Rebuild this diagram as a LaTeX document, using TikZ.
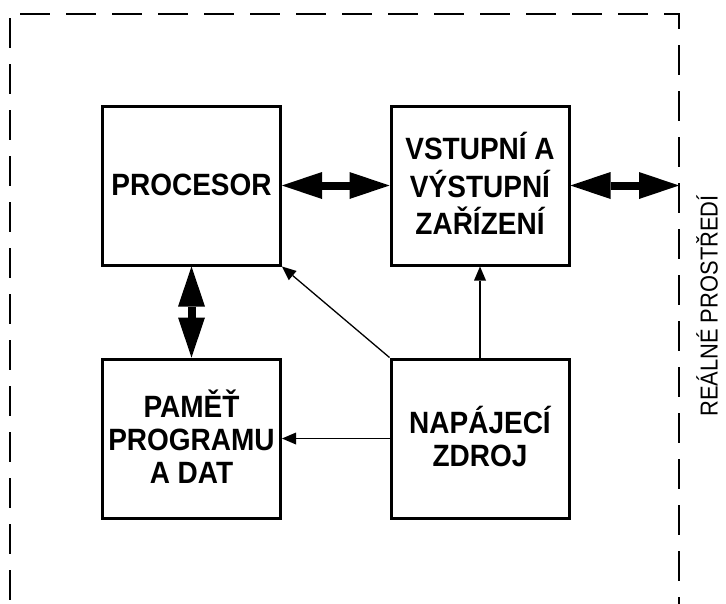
\documentclass[tikz,border=0pt]{standalone}
\usepackage{fontspec}
\setmainfont{Liberation Sans}
\usetikzlibrary{arrows.meta,calc}
% bold block caption, set a little taller than the plain face and sitting a bit low
\newcommand\blocktext[1]{\raisebox{-3pt}[\height][\depth]{\scalebox{1}[1.1]{\fontsize{28}{30}\selectfont\bfseries
  \begin{tabular}{@{}c@{}}#1\end{tabular}}}}
\begin{document}
\begin{tikzpicture}[x=1pt,y=-1pt,
  block/.style={draw, line width=3pt, minimum width=178pt, minimum height=159pt,
    align=center, inner sep=0pt},
  bus/.style={line width=8pt,
    {Triangle[length=40pt,width=27pt,line width=0pt]}-{Triangle[length=40pt,width=27pt,line width=0pt]}},
  feed/.style={line width=1.3pt, -{Triangle[length=14pt,width=12pt,line width=0pt]}},
  frame/.style={line width=1.6pt, dash pattern=on 30pt off 16pt}]
  \useasboundingbox (0,0) rectangle (726,603);
  \clip (0,0) rectangle (726,603);

  % dashed boundary of the system
  \draw[frame] (10,18) -- (10,700);
  \draw[frame] (20,14) -- (679,14) -- (679,700);

  % blocks
  \node[block] (cpu) at (191.5,185.5) {\blocktext{PROCESOR}};
  \node[block] (io)  at (480,185.5)   {\blocktext{VSTUPNÍ A\\VÝSTUPNÍ\\ZAŘÍZENÍ}};
  \node[block] (mem) at (191.5,438.5) {\blocktext{PAMĚŤ\\PROGRAMU\\A DAT}};
  \node[block] (psu) at (480,438.5)   {\blocktext{NAPÁJECÍ\\ZDROJ}};

  % outside world
  \coordinate (env) at (679,185.5);
  \node[rotate=90, inner sep=0pt] (envlabel) at (707,306)
    {\scalebox{1}[1.12]{\fontsize{21.9}{24}\selectfont REÁLNÉ PROSTŘEDÍ}};

  % buses
  \draw[bus] (cpu.east) -- (io.west);
  \draw[bus] (io.east) -- (env);
  \draw[bus] (cpu.south) -- (mem.north);

  % power supply lines
  \draw[feed] (psu.north west) -- (cpu.south east);
  \draw[feed] (psu.north) -- (io.south);
  \draw[feed] (psu.west) -- (mem.east);
\end{tikzpicture}
\end{document}
